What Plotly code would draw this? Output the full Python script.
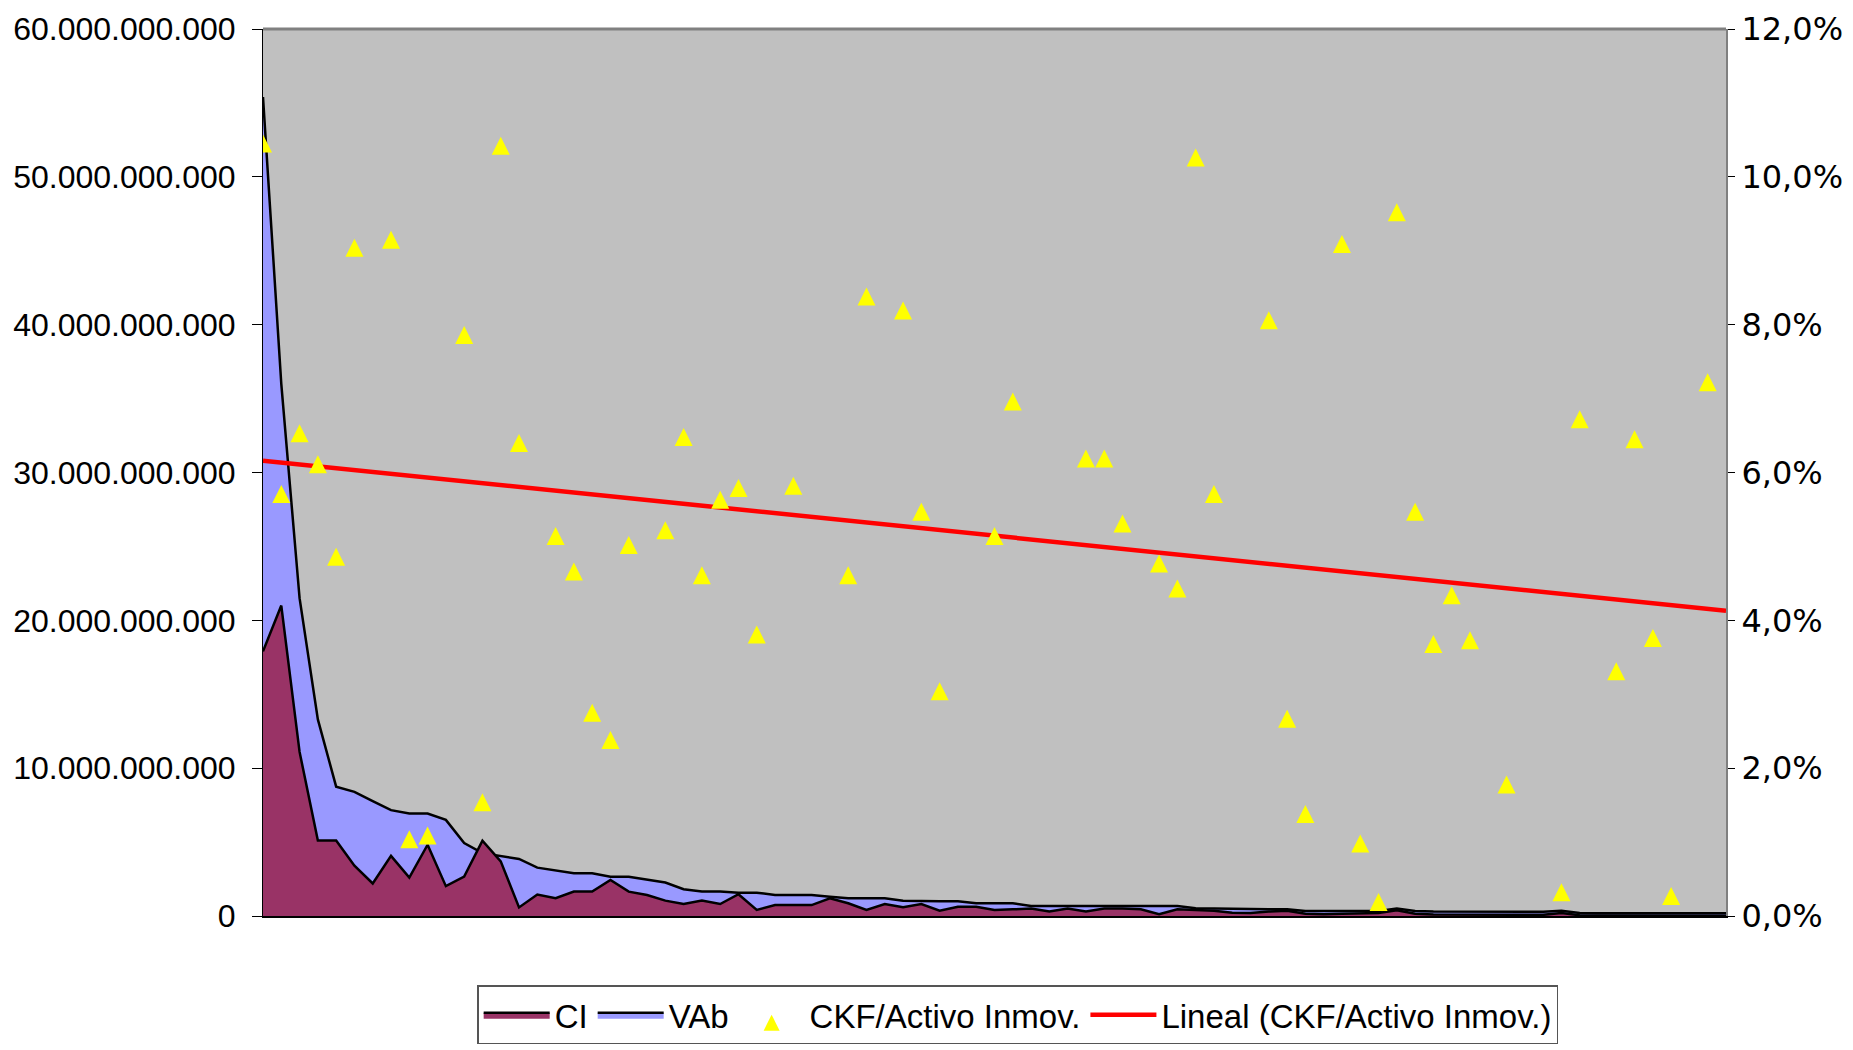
import plotly.graph_objects as go

# ---- data ----
# category index (companies ranked), 81 categories
categories = list(range(81))

# CI in thousands of millions (x 1e9)
ci = [17.9, 21.0, 11.1, 5.1, 5.1, 3.4, 2.2, 4.07, 2.6, 4.82,
      2.02, 2.66, 5.1, 3.7, 0.58, 1.45, 1.2, 1.65, 1.65, 2.44,
      1.65, 1.42, 1.04, 0.81, 1.04, 0.81, 1.47, 0.41, 0.74, 0.74,
      0.74, 1.2, 0.86, 0.41, 0.81, 0.59, 0.81, 0.36, 0.63, 0.63,
      0.41, 0.45, 0.5, 0.3, 0.5, 0.3, 0.5, 0.5, 0.45, 0.12,
      0.45, 0.4, 0.35, 0.22, 0.2, 0.3, 0.36, 0.15, 0.12, 0.15,
      0.15, 0.2, 0.38, 0.15, 0.1, 0.1, 0.1, 0.08, 0.05, 0.05,
      0.08, 0.2, 0.05, 0.03, 0.03, 0.03, 0.03, 0.03, 0.02, 0.02,
      0.02]

# VAb in thousands of millions (x 1e9)
vab = [55.4, 36.0, 21.5, 13.3, 8.75, 8.4, 7.77, 7.16, 6.93, 6.93,
       6.5, 4.93, 4.25, 4.05, 3.86, 3.27, 3.07, 2.89, 2.89, 2.66,
       2.66, 2.48, 2.26, 1.81, 1.65, 1.65, 1.58, 1.58, 1.42, 1.42,
       1.42, 1.31, 1.2, 1.2, 1.2, 1.04, 0.99, 0.99, 0.99, 0.86,
       0.86, 0.86, 0.68, 0.68, 0.68, 0.68, 0.68, 0.68, 0.68, 0.68,
       0.68, 0.52, 0.52, 0.5, 0.47, 0.45, 0.45, 0.34, 0.34, 0.34,
       0.34, 0.34, 0.5, 0.34, 0.3, 0.3, 0.3, 0.3, 0.29, 0.29,
       0.29, 0.35, 0.2, 0.18, 0.18, 0.18, 0.18, 0.18, 0.18, 0.18,
       0.18]

# CKF / Activo Inmov. in percent (None = not visible in chart)
ckf = [10.45, 5.71, 6.53, 6.11, 4.86, 9.04, None, 9.15, 1.04, 1.09,
       None, 7.86, 1.54, 10.42, 6.40, None, 5.14, 4.66, 2.75, 2.38,
       5.02, None, 5.22, 6.48, 4.61, 5.63, 5.79, 3.81, None, 5.82,
       None, None, 4.61, 8.38, None, 8.19, 5.47, 3.04, None, None,
       5.14, 6.96, None, None, None, 6.19, 6.19, 5.31, None, 4.77,
       4.43, 10.26, 5.71, None, None, 8.06, 2.67, 1.38, None, 9.09,
       0.98, 0.19, 9.52, 5.47, 3.68, 4.34, 3.73, None, 1.78, None,
       None, 0.32, 6.72, None, 3.31, 6.45, 3.76, 0.27, None, 7.22,
       None]

# linear trend of CKF/Activo Inmov. (percent) at first and last category
trend_x = [0, 80]
trend_y = [6.16, 4.13]

left_tickvals = [0, 10, 20, 30, 40, 50, 60]
left_ticktext = ["0", "10.000.000.000", "20.000.000.000", "30.000.000.000",
                 "40.000.000.000", "50.000.000.000", "60.000.000.000"]
right_tickvals = [0, 2, 4, 6, 8, 10, 12]
right_ticktext = ["0,0%", "2,0%", "4,0%", "6,0%", "8,0%", "10,0%", "12,0%"]

# ---- layout constants ----
W, H = 1853, 1050
M_L, M_R, M_T, M_B = 263, 127, 29, 134
PLOT_H = H - M_T - M_B
PCT_MAX = 12
TRI_SIZE = 18
# arrow-up markers have their tip on the data point; shift the marker axis by
# half a marker so that the triangle is centred on its value
tri_shift = (TRI_SIZE / 2) * PCT_MAX / PLOT_H

SANS = "Liberation Sans, Arial, sans-serif"
WIDE = "DejaVu Sans, Verdana, sans-serif"

fig = go.Figure()

fig.add_trace(go.Scatter(
    x=categories, y=vab, name="VAb", mode="lines", fill="tozeroy",
    fillcolor="#9999FF", line=dict(color="black", width=2.5),
    legendrank=2, yaxis="y"))
fig.add_trace(go.Scatter(
    x=categories, y=ci, name="CI", mode="lines", fill="tozeroy",
    fillcolor="#993366", line=dict(color="black", width=2.5),
    legendrank=1, yaxis="y"))
fig.add_trace(go.Scatter(
    x=categories, y=ckf, name="CKF/Activo Inmov.", mode="markers",
    marker=dict(symbol="arrow-up", size=TRI_SIZE, color="#FFFF00",
                line=dict(width=0)),
    legendrank=3, yaxis="y3"))
fig.add_trace(go.Scatter(
    x=trend_x, y=trend_y, name="Lineal (CKF/Activo Inmov.)", mode="lines",
    line=dict(color="#FF0000", width=4.5),
    legendrank=4, yaxis="y2"))

fig.update_layout(
    width=W, height=H,
    margin=dict(l=M_L, r=M_R, t=M_T, b=M_B, autoexpand=False),
    paper_bgcolor="white", plot_bgcolor="#C0C0C0",
    showlegend=True,
    xaxis=dict(range=[0, 80], showgrid=False, zeroline=False,
               showticklabels=False, ticks="", showline=True,
               linecolor="black", linewidth=2, automargin=False),
    yaxis=dict(range=[0, 60], tickvals=left_tickvals, ticktext=left_ticktext,
               showgrid=False, zeroline=False, ticks="outside", ticklen=10,
               tickcolor="black", tickwidth=1, showline=True,
               linecolor="black", linewidth=1, ticklabelstandoff=10,
               automargin=False,
               tickfont=dict(family=SANS, size=32, color="black")),
    yaxis2=dict(range=[0, PCT_MAX], tickvals=right_tickvals,
                ticktext=right_ticktext,
                overlaying="y", side="right", showgrid=False, zeroline=False,
                ticks="outside", ticklen=7, tickcolor="black", tickwidth=1,
                showline=True, linecolor="#808080", linewidth=2,
                automargin=False,
                tickfont=dict(family=WIDE, size=32, color="black")),
    yaxis3=dict(range=[-tri_shift, PCT_MAX - tri_shift], overlaying="y",
                side="right", visible=False, showgrid=False, zeroline=False,
                automargin=False),
    legend=dict(orientation="h", x=0.1464, y=-0.078, xanchor="left",
                yanchor="top", bgcolor="white", bordercolor="#555555",
                borderwidth=1.5, itemwidth=66,
                font=dict(family=SANS, size=33, color="black")),
    shapes=[dict(type="line", xref="paper", yref="paper", x0=0, x1=1,
                 y0=1, y1=1, line=dict(color="#808080", width=3))],
)

fig.write_html("out.html", config={"displayModeBar": False},
               post_script="document.body.style.margin='0px';document.body.style.overflow='hidden';")
